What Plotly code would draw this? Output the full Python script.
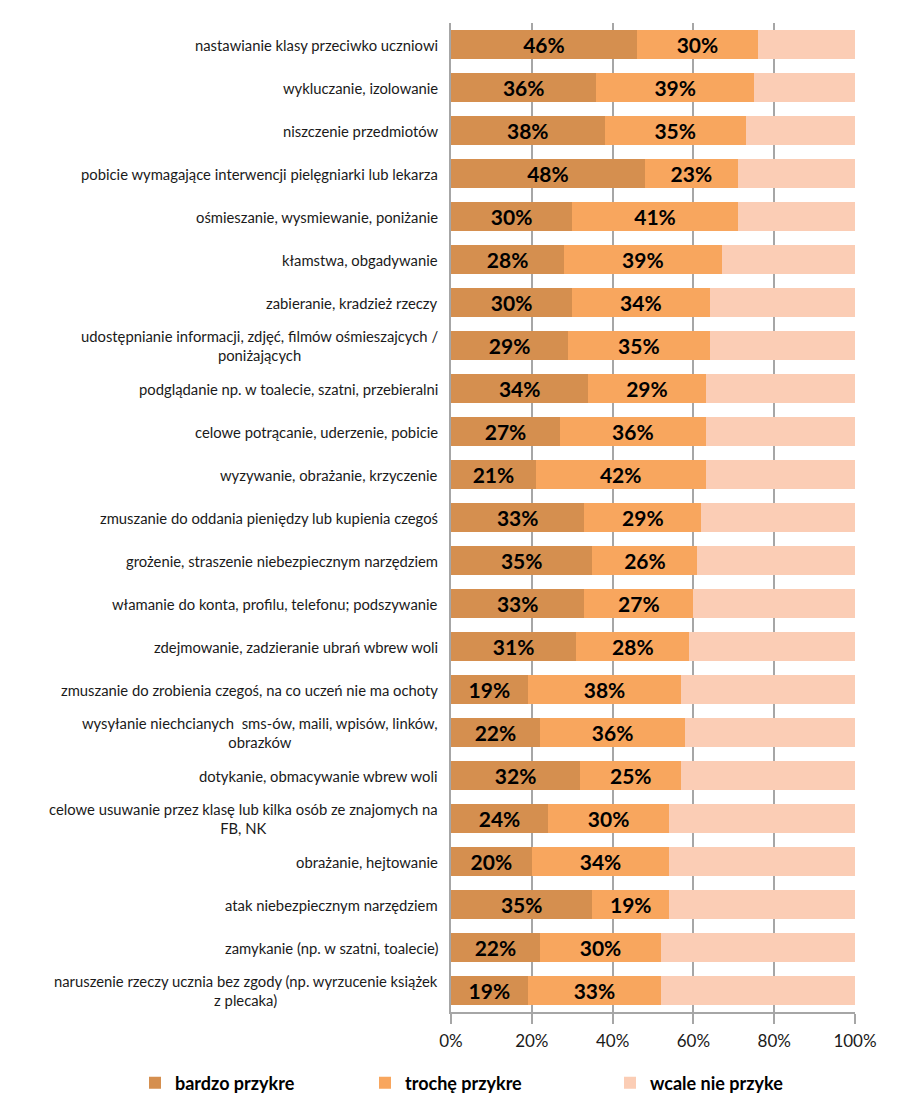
import plotly.graph_objects as go

categories = [
    "nastawianie klasy przeciwko uczniowi",
    "wykluczanie, izolowanie",
    "niszczenie przedmiotów",
    "pobicie wymagające interwencji pielęgniarki lub lekarza",
    "ośmieszanie, wysmiewanie, poniżanie",
    "kłamstwa, obgadywanie",
    "zabieranie, kradzież rzeczy",
    "udostępnianie informacji, zdjęć, filmów ośmieszajcych /<br>poniżających",
    "podglądanie np. w toalecie, szatni, przebieralni",
    "celowe potrącanie, uderzenie, pobicie",
    "wyzywanie, obrażanie, krzyczenie",
    "zmuszanie do oddania pieniędzy lub kupienia czegoś",
    "grożenie, straszenie niebezpiecznym narzędziem",
    "włamanie do konta, profilu, telefonu; podszywanie",
    "zdejmowanie, zadzieranie ubrań wbrew woli",
    "zmuszanie do zrobienia czegoś, na co uczeń nie ma ochoty",
    "wysyłanie niechcianych  sms-ów, maili, wpisów, linków,<br>obrazków",
    "dotykanie, obmacywanie wbrew woli",
    "celowe usuwanie przez klasę lub kilka osób ze znajomych na<br>FB, NK",
    "obrażanie, hejtowanie",
    "atak niebezpiecznym narzędziem",
    "zamykanie (np. w szatni, toalecie)",
    "naruszenie rzeczy ucznia bez zgody (np. wyrzucenie książek<br>z plecaka)",
]

bardzo = [46, 36, 38, 48, 30, 28, 30, 29, 34, 27, 21, 33, 35, 33, 31, 19, 22, 32, 24, 20, 35, 22, 19]
troche = [30, 39, 35, 23, 41, 39, 34, 35, 29, 36, 42, 29, 26, 27, 28, 38, 36, 25, 30, 34, 19, 30, 33]
wcale = [100 - a - b for a, b in zip(bardzo, troche)]

series_names = ["bardzo przykre", "trochę przykre", "wcale nie przyke"]
colors = ["#D58F4F", "#F8A65E", "#FBCDB5"]
legend_ids = ["legend", "legend2", "legend3"]
legend_x = [127, 357, 602]  # px, left edge of each legend box (figure coords)

FONT = "Lato"
# the page adds an 8px body margin, so the figure is sized to fit the window
W, H = 892, 1094

fig = go.Figure()
for name, vals, col, show_text, lid in zip(series_names, [bardzo, troche, wcale], colors,
                                           [True, True, False], legend_ids):
    fig.add_trace(go.Bar(
        y=categories,
        x=vals,
        name=name,
        orientation="h",
        legend=lid,
        marker=dict(color=col, line=dict(width=0)),
        texttemplate="%{x:.0f}%" if show_text else None,
        textposition="inside" if show_text else "none",
        insidetextanchor="middle",
        textfont=dict(family=FONT, size=21, color="#000000", weight="bold"),
        constraintext="none",
    ))

for cat in categories:
    fig.add_annotation(
        x=0, xref="paper", y=cat, yref="y",
        text=cat, showarrow=False,
        xanchor="right", yanchor="middle", align="center",
        xshift=-11,
        font=dict(family=FONT, size=14.8, color="#1a1a1a"),
    )

legend_common = dict(
    orientation="h",
    xref="container", yref="container",
    yanchor="middle", xanchor="left",
    font=dict(family=FONT, size=18, color="#000000", weight="bold"),
    itemwidth=30,
    bgcolor="rgba(0,0,0,0)",
)
legends = {}
for lid, lx in zip(legend_ids, legend_x):
    legends[lid] = dict(legend_common, x=lx / W, y=1 - 1075 / H)

fig.update_layout(
    width=W, height=H,
    barmode="stack",
    bargap=0.31,
    plot_bgcolor="white",
    paper_bgcolor="white",
    margin=dict(l=443, r=45, t=15, b=90, autoexpand=False),
    font=dict(family=FONT, color="#1a1a1a"),
    showlegend=True,
    xaxis=dict(
        range=[0, 100],
        dtick=20,
        ticksuffix="%",
        showgrid=True,
        gridcolor="#a6a6a6",
        gridwidth=1.5,
        zeroline=False,
        showline=True,
        linecolor="#a6a6a6",
        linewidth=1.5,
        ticks="outside",
        ticklen=10,
        tickwidth=1.5,
        tickcolor="#a6a6a6",
        ticklabelstandoff=3,
        tickfont=dict(family=FONT, size=17, color="#1a1a1a"),
        fixedrange=True,
        automargin=False,
    ),
    yaxis=dict(
        autorange="reversed",
        showticklabels=False,
        showgrid=False,
        showline=True,
        linecolor="#a6a6a6",
        linewidth=1.5,
        ticks="",
        fixedrange=True,
        automargin=False,
    ),
    **legends,
)

fig.write_html("out.html")
